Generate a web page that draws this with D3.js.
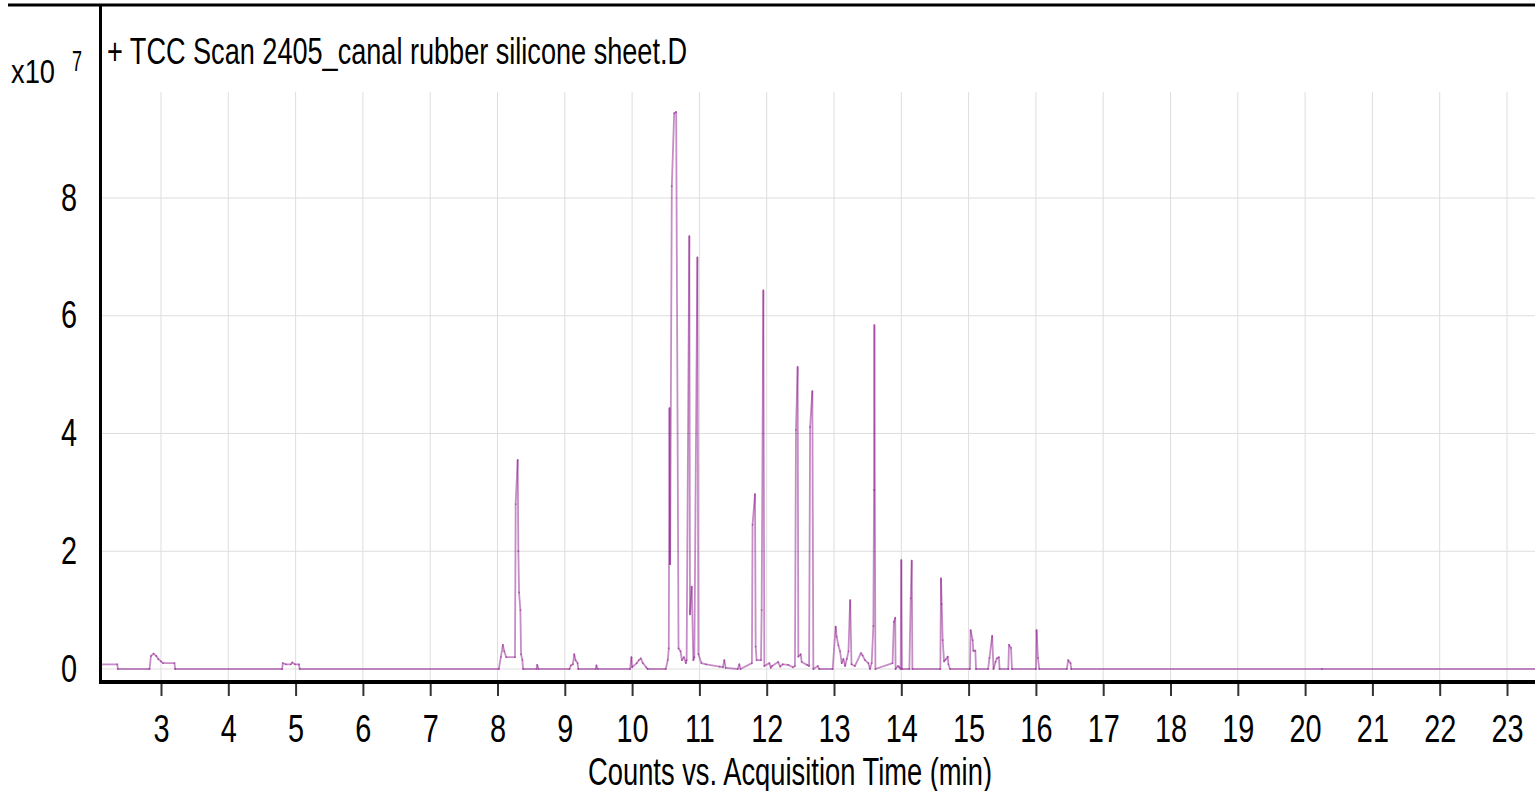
<!DOCTYPE html>
<html>
<head>
<meta charset="utf-8">
<script src="https://cdn.jsdelivr.net/npm/d3@7"></script>
<style>
  body { margin: 0; background: #fff; }
  svg { display: block; }
  text { font-family: "Liberation Sans Narrow", "Arial Narrow", "Liberation Sans", sans-serif; fill: #000; }
</style>
</head>
<body>
<div id="chart"></div>
<script>
// chromatogram, time in minutes, counts in units of 1e7
const times = [
  2.11, 2.35, 2.36, 2.83, 2.85, 2.89, 2.93, 2.96, 3.00, 3.03, 3.20, 3.21,
  4.80, 4.81, 4.86, 4.93, 4.95, 4.99, 5.05, 5.06,
  8.02, 8.05, 8.08, 8.10, 8.13, 8.26, 8.27, 8.30, 8.31, 8.32, 8.34, 8.35, 8.37, 8.38,
  8.58, 8.59, 8.61,
  9.07, 9.09, 9.12, 9.14, 9.16, 9.19, 9.20,
  9.46, 9.47, 9.49,
  9.97, 9.99, 10.00, 10.07, 10.10, 10.13, 10.16, 10.21, 10.23,
  10.50, 10.53, 10.545, 10.555, 10.565, 10.59, 10.625, 10.655, 10.69, 10.72, 10.74, 10.77, 10.80,
  10.81, 10.85, 10.86, 10.886, 10.91, 10.925, 10.97, 10.985,
  11.03, 11.10, 11.30, 11.35, 11.37, 11.39,
  11.57, 11.593, 11.61, 11.78, 11.79, 11.826, 11.836, 11.851, 11.915, 11.925, 11.95, 11.965,
  12.04, 12.06, 12.08, 12.17, 12.20, 12.24, 12.32, 12.39,
  12.42, 12.435, 12.46, 12.47, 12.505, 12.52, 12.60, 12.63, 12.645, 12.678, 12.693, 12.76, 12.78,
  12.98, 13.025, 13.04, 13.065, 13.09, 13.115, 13.14, 13.165, 13.19, 13.215, 13.24, 13.26, 13.31,
  13.40, 13.425, 13.46, 13.51, 13.535, 13.56, 13.585, 13.595, 13.60, 13.615,
  13.87, 13.89, 13.91, 13.915, 13.95, 13.97, 13.99, 14.00, 14.01,
  14.12, 14.14, 14.155, 14.165,
  14.58, 14.59, 14.60, 14.615, 14.635, 14.66, 14.69, 14.70, 14.725,
  15.02, 15.03, 15.06, 15.07, 15.10, 15.11,
  15.29, 15.31, 15.35, 15.37, 15.40, 15.42, 15.45, 15.46,
  15.59, 15.60, 15.63, 15.645,
  16.00, 16.01, 16.03, 16.05,
  16.46, 16.48, 16.515, 16.525,
  20.25, 23.42
];
const counts = [
  0.08, 0.08, 0.00, 0.00, 0.22, 0.26, 0.22, 0.17, 0.13, 0.10, 0.10, 0.00,
  0.00, 0.10, 0.08, 0.08, 0.11, 0.08, 0.08, 0.00,
  0.00, 0.20, 0.41, 0.30, 0.20, 0.20, 2.80, 3.55, 2.00, 1.30, 1.00, 0.25, 0.15, 0.00,
  0.00, 0.07, 0.00,
  0.00, 0.06, 0.08, 0.25, 0.15, 0.10, 0.00,
  0.00, 0.06, 0.00,
  0.00, 0.20, 0.03, 0.10, 0.15, 0.18, 0.10, 0.03, 0.00,
  0.00, 0.15, 0.35, 4.43, 1.78, 8.20, 9.44, 9.46, 0.35, 0.30, 0.15, 0.20, 0.10,
  0.15, 7.35, 0.93, 1.40, 0.15, 0.20, 6.99, 0.25,
  0.10, 0.08, 0.04, 0.03, 0.15, 0.02,
  0.00, 0.08, 0.00, 0.10, 2.45, 2.97, 0.38, 0.15, 0.15, 1.00, 6.43, 0.05,
  0.10, 0.02, 0.05, 0.12, 0.04, 0.08, 0.07, 0.03,
  0.05, 4.06, 5.13, 0.21, 0.25, 0.12, 0.07, 0.05, 4.11, 4.72, 0.00, 0.05, 0.00,
  0.00, 0.72, 0.55, 0.40, 0.30, 0.10, 0.17, 0.05, 0.17, 0.30, 1.17, 0.08, 0.05,
  0.27, 0.23, 0.15, 0.10, 0.00, 0.10, 0.73, 3.04, 5.84, 0.00,
  0.10, 0.80, 0.87, 0.00, 0.05, 0.03, 0.00, 1.85, 0.00,
  0.00, 1.20, 1.84, 0.00,
  0.00, 1.54, 1.10, 0.49, 0.13, 0.16, 0.21, 0.08, 0.00,
  0.00, 0.66, 0.49, 0.31, 0.31, 0.00,
  0.00, 0.19, 0.56, 0.00, 0.12, 0.18, 0.20, 0.00,
  0.00, 0.41, 0.36, 0.00,
  0.00, 0.66, 0.19, 0.00,
  0.00, 0.15, 0.10, 0.00,
  0.00, 0.00
];

const xTickValues = [3, 4, 5, 6, 7, 8, 9, 10, 11, 12, 13, 14, 15, 16, 17, 18, 19, 20, 21, 22, 23];
const yTickValues = [0, 2, 4, 6, 8];

const titleText = "+ TCC Scan 2405_canal rubber silicone sheet.D";
const xTitle = "Counts vs. Acquisition Time (min)";

const width = 1535;
const height = 791;
const margin = { top: 92, right: 0, bottom: 109, left: 101 };
const innerWidth = width - margin.left - margin.right;
const innerHeight = height - margin.top - margin.bottom;
const squeeze = 0.76; // the original font is a narrow face

const data = times.map((t, i) => ({ t: t, v: counts[i] }));

const svg = d3.select("#chart")
  .append("svg")
  .attr("width", width)
  .attr("height", height);

const innerChart = svg.append("g")
  .attr("transform", `translate(${margin.left}, ${margin.top})`);

const xScale = d3.scaleLinear()
  .domain([2.1085, 23.416])
  .range([0, innerWidth]);

const yScale = d3.scaleLinear()
  .domain([-0.221, 9.80])
  .range([innerHeight, 0]);

// squeeze a text horizontally to look like the narrow face
const narrow = sel => sel.each(function () {
  const w = this.getComputedTextLength();
  d3.select(this)
    .attr("textLength", w * squeeze)
    .attr("lengthAdjust", "spacingAndGlyphs");
});

// grid
innerChart.append("g")
  .selectAll("line")
  .data(xTickValues)
  .join("line")
  .attr("x1", d => xScale(d))
  .attr("x2", d => xScale(d))
  .attr("y1", 0)
  .attr("y2", innerHeight)
  .attr("stroke", "#dedede")
  .attr("stroke-width", 1);

innerChart.append("g")
  .selectAll("line")
  .data(yTickValues)
  .join("line")
  .attr("x1", 0)
  .attr("x2", innerWidth)
  .attr("y1", d => yScale(d))
  .attr("y2", d => yScale(d))
  .attr("stroke", "#dedede")
  .attr("stroke-width", 1);

// signal drawn as separate translucent segments so overlaps darken
const segs = d3.pairs(data);
innerChart.append("g")
  .selectAll("line")
  .data(segs)
  .join("line")
  .attr("x1", d => xScale(d[0].t))
  .attr("y1", d => yScale(d[0].v))
  .attr("x2", d => xScale(d[1].t))
  .attr("y2", d => yScale(d[1].v))
  .attr("stroke", "#800080")
  .attr("stroke-opacity", 0.45)
  .attr("stroke-width", 1.8)
  .attr("stroke-linecap", "round");

// x axis
const bottomAxis = d3.axisBottom(xScale)
  .tickValues(xTickValues)
  .tickSize(14)
  .tickPadding(19)
  .tickFormat(d3.format("d"));

const xAxisG = innerChart.append("g")
  .attr("transform", `translate(0, ${innerHeight})`)
  .call(bottomAxis);
xAxisG.select(".domain").remove();
xAxisG.selectAll(".tick line").attr("stroke", "#333").attr("stroke-width", 2).attr("y1", 2);
xAxisG.selectAll(".tick text")
  .attr("font-size", 38)
  .attr("font-family", null)
  .call(narrow);

innerChart.append("line")
  .attr("x1", -2)
  .attr("x2", innerWidth)
  .attr("y1", innerHeight)
  .attr("y2", innerHeight)
  .attr("stroke", "#000")
  .attr("stroke-width", 4);

// y axis labels
const leftAxis = d3.axisLeft(yScale)
  .tickValues(yTickValues)
  .tickSize(0)
  .tickPadding(24)
  .tickFormat(d3.format("d"));

const yAxisG = innerChart.append("g").call(leftAxis);
yAxisG.select(".domain").remove();
yAxisG.selectAll(".tick text")
  .attr("font-size", 38)
  .attr("font-family", null)
  .call(narrow);

// frame: left axis line and top border
svg.append("line")
  .attr("x1", margin.left - 0.5)
  .attr("x2", margin.left - 0.5)
  .attr("y1", 4)
  .attr("y2", margin.top + innerHeight)
  .attr("stroke", "#000")
  .attr("stroke-width", 3);

svg.append("line")
  .attr("x1", 8)
  .attr("x2", width)
  .attr("y1", 5)
  .attr("y2", 5)
  .attr("stroke", "#000")
  .attr("stroke-width", 3);

// labels
svg.append("text")
  .attr("x", 107)
  .attr("y", 64)
  .attr("font-size", 37)
  .attr("textLength", 580)
  .attr("lengthAdjust", "spacingAndGlyphs")
  .text(titleText);

svg.append("text")
  .attr("x", 11)
  .attr("y", 83)
  .attr("font-size", 34)
  .attr("textLength", 44)
  .attr("lengthAdjust", "spacingAndGlyphs")
  .text("x10");

svg.append("text")
  .attr("x", 72)
  .attr("y", 71)
  .attr("font-size", 30)
  .attr("textLength", 10)
  .attr("lengthAdjust", "spacingAndGlyphs")
  .text("7");

svg.append("text")
  .attr("x", 588)
  .attr("y", 785)
  .attr("font-size", 38)
  .attr("textLength", 404)
  .attr("lengthAdjust", "spacingAndGlyphs")
  .text(xTitle);
</script>
</body>
</html>
